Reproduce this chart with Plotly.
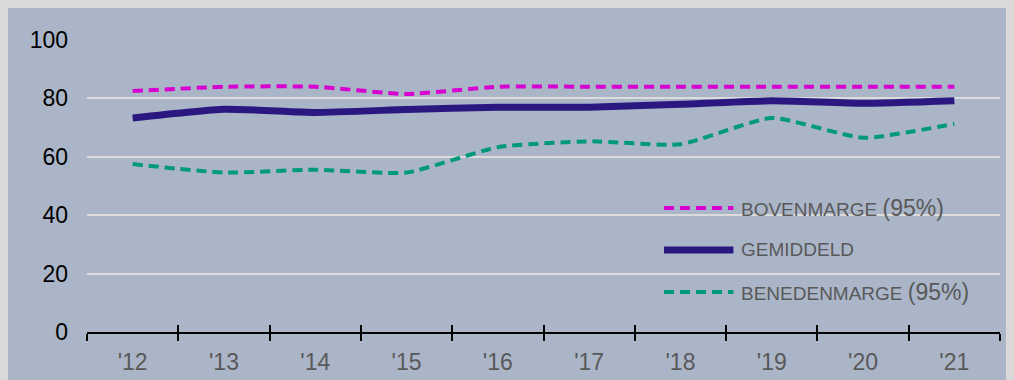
import plotly.graph_objects as go

jaren = ["'12", "'13", "'14", "'15", "'16", "'17", "'18", "'19", "'20", "'21"]
bovenmarge = [82.5, 84, 84, 81.5, 84, 84, 84, 84, 84, 84]
gemiddeld = [73.3, 76.3, 75.2, 76.2, 77, 77, 78, 79.2, 78.3, 79.2]
benedenmarge = [57.5, 54.6, 55.6, 54.6, 63.3, 65.3, 64.3, 73.3, 66.5, 71.3]

bg = '#ABB5C8'
grijs = '#595959'
groot = " <span style='font-size:23px'>(95%)</span>"

reeksen = [
    ('BOVENMARGE' + groot, bovenmarge, '#D600D0', 4, '10px,6px'),
    ('GEMIDDELD', gemiddeld, '#2A1880', 7, 'solid'),
    ('BENEDENMARGE' + groot, benedenmarge, '#009A7A', 4, '10px,6px'),
]

fig = go.Figure()

# lijnen (licht afgevlakt zoals in het origineel)
for naam, waarden, kleur, dikte, streep in reeksen:
    fig.add_trace(go.Scatter(x=jaren, y=waarden, mode='lines', line_shape='spline',
                             line=dict(color=kleur, width=dikte, dash=streep, smoothing=0.5),
                             name=naam, showlegend=False))

# onzichtbaar spoor voor de tweede x-as (tickstreepjes boven de as)
fig.add_trace(go.Scatter(x=jaren, y=gemiddeld, xaxis='x2', mode='lines',
                         line=dict(width=0), showlegend=False, hoverinfo='skip'))

# legenda met lange lijnstukjes, zoals in het origineel
rij_y = [0.425, 0.281, 0.137]
for (naam, waarden, kleur, dikte, streep), yy in zip(reeksen, rij_y):
    fig.add_shape(type='line', xref='paper', yref='paper', x0=0.632, x1=0.708, y0=yy, y1=yy,
                  line=dict(color=kleur, width=dikte, dash=streep))
    fig.add_annotation(xref='paper', yref='paper', x=0.714, y=yy, text=naam, showarrow=False,
                       xanchor='left', yanchor='middle', font=dict(size=19, color=grijs))

fig.update_layout(
    width=1014, height=380,
    margin=dict(l=79, r=22, t=32, b=56),
    paper_bgcolor=bg, plot_bgcolor=bg,
    font=dict(family='Arial, Liberation Sans, sans-serif'),
    xaxis=dict(type='category', tickson='boundaries', ticks='outside', ticklen=7,
               tickcolor='black', tickwidth=1.5, showgrid=False,
               showline=True, linecolor='black', linewidth=2,
               tickfont=dict(size=23, color=grijs), range=[-0.5, 9.5],
               ticklabelstandoff=8),
    xaxis2=dict(type='category', overlaying='x', tickson='boundaries', ticks='inside',
                ticklen=7, tickcolor='black', tickwidth=1.5, showgrid=False,
                showticklabels=False, range=[-0.5, 9.5], side='bottom', anchor='y'),
    yaxis=dict(range=[0, 100], dtick=20, showgrid=True, gridcolor='#DCDCDC', gridwidth=2,
               zeroline=False, ticks='', tickfont=dict(size=23, color='black'),
               ticklabelstandoff=18),
    showlegend=False,
)

fig.write_html("out.html", post_script="document.body.style.background='#D9D9D9';")
